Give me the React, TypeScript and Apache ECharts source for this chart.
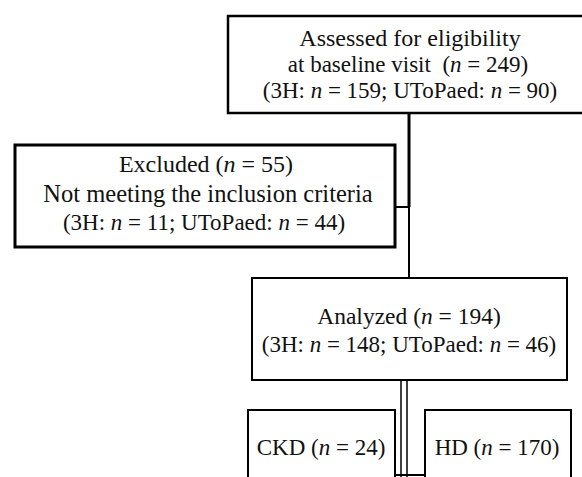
import React, { useEffect, useRef } from "react";
import * as echarts from "echarts";

// Flow-chart content
const stepNames = ["Assessed", "Excluded", "Analyzed", "CKD", "HD"];
const stepTotals = [249, 55, 194, 24, 170];
const counts3H = [159, 11, 148];
const countsUToPaed = [90, 44, 46];

const FONT = "'Liberation Serif', 'DejaVu Serif', serif";
const FS = 23;

function textEl(str: string, x: number, y: number, size = FS) {
  return {
    type: "text",
    x,
    y,
    silent: true,
    style: {
      text: str,
      fontFamily: FONT,
      fontSize: size,
      fill: "#111",
      align: "center",
      verticalAlign: "middle",
      rich: {
        i: { fontFamily: FONT, fontSize: size, fontStyle: "italic", fill: "#111" },
      },
    },
  };
}

function rectEl(x: number, y: number, w: number, h: number, lw: number) {
  return {
    type: "rect",
    shape: { x, y, width: w, height: h },
    silent: true,
    style: { fill: "#fff", stroke: "#000", lineWidth: lw },
  };
}

function lineEl(x1: number, y1: number, x2: number, y2: number, lw: number) {
  return {
    type: "line",
    shape: { x1, y1, x2, y2 },
    silent: true,
    style: { stroke: "#000", lineWidth: lw },
  };
}

export default function App() {
  const ref = useRef<HTMLDivElement>(null);
  useEffect(() => {
    document.body.style.margin = "0";
    const chart = echarts.init(ref.current!, undefined, { renderer: "svg" });
    const n = "{i|n}";
    const elements: any[] = [
      // connectors
      lineEl(409, 113, 409, 207, 3),
      lineEl(395, 207, 409, 207, 2),
      lineEl(409, 207, 409, 278, 2),
      lineEl(401, 380, 401, 480, 1.5),
      lineEl(407, 380, 407, 480, 1.5),
      // boxes
      rectEl(228, 16, 366, 97, 2.5),
      rectEl(15, 145, 380, 102, 3),
      rectEl(252, 278, 315, 102, 2),
      rectEl(248, 410, 147, 90, 2),
      rectEl(425, 410, 146, 90, 2),
      lineEl(395, 475, 425, 475, 2),
      // texts
      textEl(`${stepNames[0]} for eligibility`, 410, 38, 24),
      textEl(`at baseline visit  (${n} = ${stepTotals[0]})`, 408, 64),
      textEl(`(3H: ${n} = ${counts3H[0]}; UToPaed: ${n} = ${countsUToPaed[0]})`, 410, 90),
      textEl(`${stepNames[1]} (${n} = ${stepTotals[1]})`, 206, 164, 24),
      textEl(`Not meeting the inclusion criteria`, 208, 193, 24.5),
      textEl(`(3H: ${n} = ${counts3H[1]}; UToPaed: ${n} = ${countsUToPaed[1]})`, 204, 222),
      textEl(`${stepNames[2]} (${n} = ${stepTotals[2]})`, 409, 316, 23.5),
      textEl(`(3H: ${n} = ${counts3H[2]}; UToPaed: ${n} = ${countsUToPaed[2]})`, 409, 344),
      textEl(`${stepNames[3]} (${n} = ${stepTotals[3]})`, 321, 447),
      textEl(`${stepNames[4]} (${n} = ${stepTotals[4]})`, 497, 447),
    ];
    chart.setOption({
      animation: false,
      backgroundColor: "#fff",
      graphic: { elements },
    });
    return () => chart.dispose();
  }, []);
  return <div ref={ref} style={{ width: 582, height: 477 }} />;
}
